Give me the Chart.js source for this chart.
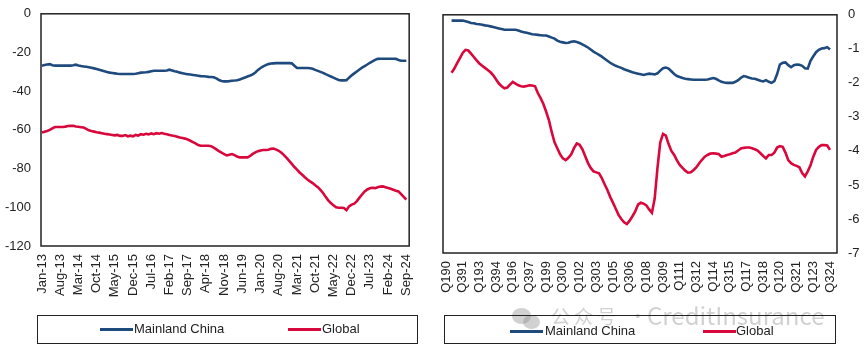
<!DOCTYPE html>
<html>
<head>
<meta charset="utf-8">
<script src="https://cdn.jsdelivr.net/npm/chart.js"></script>
<style>
  body{margin:0;background:#fff;width:865px;height:354px;position:relative;overflow:hidden;font-family:"Liberation Sans",Arial,sans-serif;}
  canvas{position:absolute;top:-4px;}
  .box{position:absolute;border:1.5px solid #222;box-sizing:border-box;}
  .key{position:absolute;height:3px;}
  .lbl{position:absolute;font-size:13px;color:#222;line-height:14px;}
  .wm{position:absolute;font-family:"Noto Sans CJK SC",sans-serif;color:rgba(140,140,140,0.4);white-space:nowrap;line-height:30px;}
  .dot{position:absolute;border-radius:50%;background:rgba(140,140,140,0.4);}
</style>
</head>
<body>
<canvas id="left" width="430" height="309" style="left:0"></canvas>
<canvas id="right" width="435" height="309" style="left:430px"></canvas>

<div class="box" style="left:37px;top:315px;width:381px;height:29px"></div>
<div class="key" style="left:100px;top:328px;width:33px;background:#1f4a7e"></div>
<div class="lbl" style="left:134px;top:322px">Mainland China</div>
<div class="key" style="left:288px;top:328px;width:33px;background:#d9083c"></div>
<div class="lbl" style="left:322px;top:322px">Global</div>

<div class="dot" style="left:512px;top:308px;width:19px;height:16px"></div>
<div class="dot" style="left:523px;top:315px;width:17px;height:14px"></div>
<div class="wm" style="left:551px;top:301px;font-size:19px;letter-spacing:4px">公众号 ·</div>
<div class="wm" style="left:647px;top:300px;font-size:24px">CreditInsurance</div>

<div class="box" style="left:444px;top:315px;width:392px;height:29px"></div>
<div class="key" style="left:510px;top:330px;width:33px;background:#1f4a7e"></div>
<div class="lbl" style="left:545px;top:324px">Mainland China</div>
<div class="key" style="left:703px;top:330px;width:33px;background:#d9083c"></div>
<div class="lbl" style="left:736px;top:324px">Global</div>

<script>
// monthly index, Jan-13 .. Sep-24 (tick every 7 months)
const leftTicks = ['Jan-13','Aug-13','Mar-14','Oct-14','May-15','Dec-15','Jul-16','Feb-17','Sep-17','Apr-18','Nov-18','Jun-19','Jan-20','Aug-20','Mar-21','Oct-21','May-22','Dec-22','Jul-23','Feb-24','Sep-24'];
const leftChina = [
  -26.8,-26.5,-26.2,-26.0,-26.6,-26.8,-26.8,-26.8,-26.8,-26.8,
  -26.8,-26.8,-26.6,-26.3,-26.7,-27.0,-27.2,-27.4,-27.6,-27.9,
  -28.2,-28.5,-28.9,-29.3,-29.7,-30.1,-30.4,-30.6,-30.8,-31.0,
  -31.1,-31.1,-31.1,-31.1,-31.1,-31.1,-31.0,-30.7,-30.4,-30.3,
  -30.2,-30.0,-29.7,-29.4,-29.4,-29.4,-29.4,-29.4,-29.3,-28.9,
  -29.3,-29.7,-30.0,-30.4,-30.7,-31.0,-31.2,-31.4,-31.6,-31.8,
  -32.0,-32.2,-32.3,-32.4,-32.6,-32.7,-32.8,-33.4,-34.2,-34.7,
  -34.9,-34.9,-34.8,-34.6,-34.5,-34.3,-33.9,-33.4,-32.9,-32.4,
  -31.9,-31.3,-30.3,-29.0,-28.0,-27.2,-26.5,-26.0,-25.7,-25.6,
  -25.5,-25.5,-25.5,-25.5,-25.5,-25.5,-25.6,-26.8,-28.0,-28.0,
  -28.0,-28.0,-28.0,-28.1,-28.4,-29.0,-29.5,-30.0,-30.5,-31.2,
  -31.8,-32.4,-33.0,-33.6,-34.2,-34.4,-34.4,-34.3,-33.0,-31.8,
  -30.8,-29.8,-28.8,-27.8,-27.0,-26.2,-25.3,-24.6,-23.8,-23.3,
  -23.2,-23.2,-23.2,-23.2,-23.2,-23.2,-23.3,-23.9,-24.3,-24.3,
  -24.3
];
const leftGlobal = [
  -61.4,-61.0,-60.6,-60.0,-59.2,-58.5,-58.5,-58.5,-58.5,-58.3,
  -58.0,-57.9,-57.9,-58.2,-58.4,-58.6,-58.8,-59.5,-60.2,-60.6,
  -60.9,-61.2,-61.4,-61.7,-62.0,-62.2,-62.4,-62.6,-62.8,-62.6,
  -63.1,-63.1,-62.7,-63.3,-63.0,-63.3,-62.6,-63.0,-62.2,-62.5,
  -62.0,-62.3,-61.8,-62.2,-61.7,-62.0,-61.6,-62.0,-62.3,-62.6,
  -62.9,-63.1,-63.5,-63.9,-64.2,-64.5,-65.0,-65.6,-66.3,-67.0,
  -67.8,-68.2,-68.2,-68.2,-68.2,-68.4,-69.2,-70.1,-71.0,-71.8,
  -72.5,-73.2,-72.8,-72.5,-73.0,-73.8,-74.2,-74.2,-74.2,-74.2,
  -73.5,-72.4,-71.6,-71.0,-70.6,-70.4,-70.4,-70.3,-69.8,-69.6,
  -70.2,-70.8,-71.8,-73.0,-74.5,-76.0,-77.6,-79.2,-80.5,-82.0,
  -83.2,-84.5,-85.6,-86.6,-87.5,-88.6,-89.6,-91.0,-92.6,-94.6,
  -96.4,-97.8,-99.0,-100.0,-100.2,-100.2,-100.4,-101.5,-99.5,-98.6,
  -98.1,-96.8,-95.0,-93.4,-91.8,-90.8,-90.2,-89.9,-90.1,-89.7,
  -89.3,-89.2,-89.6,-90.0,-90.4,-90.9,-91.4,-91.8,-93.2,-94.6,
  -96.0
];

// quarterly index, Q1 1990 .. Q3 2024 (tick every 6 quarters)
const rightTicks = ['Q190','Q391','Q193','Q394','Q196','Q397','Q199','Q300','Q102','Q303','Q105','Q306','Q108','Q309','Q111','Q312','Q114','Q315','Q117','Q318','Q120','Q321','Q123','Q324'];
const rightChina = [
  null,null,-0.17,-0.17,-0.17,-0.17,-0.17,-0.19,-0.21,-0.24,
  -0.25,-0.27,-0.28,-0.29,-0.31,-0.32,-0.34,-0.36,-0.38,-0.40,
  -0.42,-0.44,-0.44,-0.44,-0.44,-0.44,-0.46,-0.49,-0.51,-0.53,
  -0.55,-0.57,-0.58,-0.59,-0.60,-0.61,-0.61,-0.64,-0.67,-0.70,
  -0.76,-0.79,-0.81,-0.83,-0.82,-0.79,-0.78,-0.80,-0.83,-0.87,
  -0.91,-0.96,-1.02,-1.08,-1.13,-1.18,-1.23,-1.29,-1.35,-1.41,
  -1.46,-1.50,-1.53,-1.56,-1.60,-1.63,-1.66,-1.69,-1.71,-1.73,
  -1.75,-1.77,-1.75,-1.73,-1.74,-1.75,-1.72,-1.64,-1.57,-1.55,
  -1.58,-1.66,-1.74,-1.80,-1.83,-1.86,-1.88,-1.89,-1.90,-1.91,
  -1.91,-1.91,-1.91,-1.91,-1.90,-1.88,-1.86,-1.88,-1.93,-1.97,
  -1.99,-2.00,-2.00,-2.00,-1.97,-1.92,-1.85,-1.80,-1.82,-1.85,
  -1.87,-1.88,-1.91,-1.94,-1.96,-1.92,-1.97,-2.00,-1.95,-1.74,
  -1.46,-1.41,-1.40,-1.48,-1.54,-1.48,-1.46,-1.47,-1.50,-1.57,
  -1.58,-1.35,-1.22,-1.10,-1.03,-0.99,-0.98,-0.95,-1.02
];
const rightGlobal = [
  null,null,-1.70,-1.58,-1.42,-1.27,-1.12,-1.03,-1.05,-1.14,
  -1.24,-1.34,-1.43,-1.50,-1.56,-1.62,-1.69,-1.78,-1.90,-2.02,
  -2.10,-2.16,-2.14,-2.05,-1.97,-2.02,-2.07,-2.10,-2.11,-2.09,
  -2.07,-2.08,-2.10,-2.30,-2.45,-2.62,-2.85,-3.10,-3.45,-3.75,
  -3.92,-4.10,-4.22,-4.27,-4.20,-4.10,-3.92,-3.78,-3.82,-3.95,
  -4.15,-4.35,-4.50,-4.60,-4.63,-4.66,-4.80,-4.98,-5.15,-5.35,
  -5.52,-5.70,-5.88,-6.00,-6.10,-6.15,-6.05,-5.92,-5.78,-5.58,
  -5.52,-5.55,-5.60,-5.72,-5.82,-5.40,-4.50,-3.75,-3.50,-3.55,
  -3.80,-4.00,-4.12,-4.28,-4.41,-4.50,-4.58,-4.64,-4.63,-4.56,
  -4.48,-4.36,-4.26,-4.17,-4.12,-4.08,-4.07,-4.08,-4.09,-4.17,
  -4.15,-4.12,-4.10,-4.07,-4.05,-3.99,-3.93,-3.91,-3.90,-3.90,
  -3.92,-3.95,-3.99,-4.07,-4.15,-4.22,-4.12,-4.12,-4.05,-3.90,
  -3.86,-3.88,-4.05,-4.27,-4.36,-4.41,-4.44,-4.48,-4.65,-4.75,
  -4.60,-4.42,-4.17,-3.97,-3.88,-3.83,-3.83,-3.84,-3.97
];

const BLUE = '#1f4a7e', RED = '#d9083c';
const FONT = {family:'"Liberation Sans", Arial, sans-serif', size:13};

function pts(arr){ return arr.map((v,i)=>({x:i,y:v})); }

// black frame round the plot area
const frame = { id:'frame', afterDraw(c){
  const a=c.chartArea, ctx=c.ctx;
  ctx.save(); ctx.strokeStyle='#222'; ctx.lineWidth=1.5;
  ctx.strokeRect(a.left, a.top, a.right-a.left, a.bottom-a.top);
  ctx.restore();
}};

function makeChart(id, o){
  return new Chart(document.getElementById(id), {
    type:'line',
    data:{datasets:[
      {label:'Mainland China', data:pts(o.china), borderColor:BLUE, borderWidth:2.6, pointRadius:0, spanGaps:false},
      {label:'Global', data:pts(o.global), borderColor:RED, borderWidth:2.6, pointRadius:0, spanGaps:false}
    ]},
    options:{
      responsive:false, animation:false,
      layout:{padding:o.pad},
      plugins:{legend:{display:false}, tooltip:{enabled:false}},
      scales:{
        x:{type:'linear', min:o.xmin, max:o.xmax,
          grid:{display:false, drawTicks:false}, border:{display:false},
          afterBuildTicks: s=>{ s.ticks = o.ticks.map((_,k)=>({value:k*o.step})); },
          afterFit: s=>{ s.height = o.xh; },
          ticks:{autoSkip:false, minRotation:90, maxRotation:90, padding:8, font:FONT, color:'#222',
            callback:(v,i)=>o.ticks[i]}},
        y:{position:o.ypos, min:o.ymin, max:0,
          grid:{display:false, drawTicks:false}, border:{display:false},
          afterFit: s=>{ s.width = o.yw; },
          ticks:{stepSize:o.ystep, padding:o.ypad, font:FONT, color:'#222'}}
      }
    },
    plugins:[frame]
  });
}

makeChart('left', {china:leftChina, global:leftGlobal, ticks:leftTicks, step:7,
  xmin:-0.37, xmax:141.1, xh:59, ypos:'left', ymin:-120, ystep:20, yw:41, ypad:10,
  pad:{top:9, right:11, left:0, bottom:0}});
makeChart('right', {china:rightChina, global:rightGlobal, ticks:rightTicks, step:6,
  xmin:-1.08, xmax:140.52, xh:52, ypos:'right', ymin:-7, ystep:1, yw:28, ypad:11,
  pad:{top:9, right:0, left:13, bottom:0}});
</script>
</body>
</html>
